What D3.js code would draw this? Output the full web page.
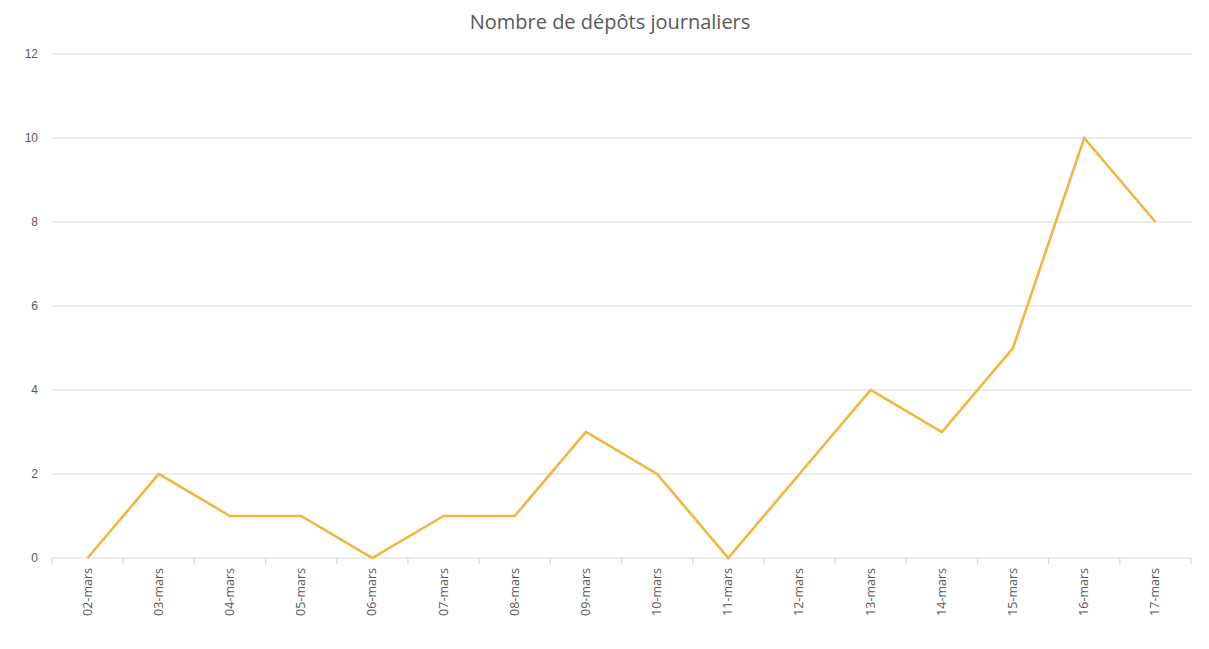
<!DOCTYPE html>
<html>
<head>
<meta charset="utf-8">
<script src="https://cdn.jsdelivr.net/npm/d3@7"></script>
<style>
  body { margin: 0; background: #fff; }
  svg { font-family: "Open Sans", "Noto Sans", sans-serif; }
</style>
</head>
<body>
<svg id="chart" width="1209" height="649"></svg>
<script>
// Données du graphique
const jours = ["02-mars", "03-mars", "04-mars", "05-mars", "06-mars", "07-mars", "08-mars", "09-mars",
  "10-mars", "11-mars", "12-mars", "13-mars", "14-mars", "15-mars", "16-mars", "17-mars"];
const depots = [0, 2, 1, 1, 0, 1, 1, 3, 2, 0, 2, 4, 3, 5, 10, 8];
const yTicks = [0, 2, 4, 6, 8, 10, 12];
const titre = "Nombre de dépôts journaliers";

const svg = d3.select("#chart");
const margin = { top: 54, right: 18, bottom: 91, left: 52 };
const width = 1209 - margin.left - margin.right;
const height = 649 - margin.top - margin.bottom;

const g = svg.append("g").attr("transform", `translate(${margin.left},${margin.top})`);

const x = d3.scaleBand().domain(jours).range([0, width]);
const y = d3.scaleLinear().domain([0, 12]).range([height, 0]);

// Titre
svg.append("text")
  .attr("x", 610)
  .attr("y", 29)
  .attr("text-anchor", "middle")
  .attr("fill", "#595959")
  .attr("font-size", 20)
  .text(titre);

// Grille horizontale
g.selectAll(".grid")
  .data(yTicks.filter(d => d > 0))
  .join("line")
  .attr("x1", 0)
  .attr("x2", width)
  .attr("y1", d => y(d))
  .attr("y2", d => y(d))
  .attr("stroke", "#d9d9d9")
  .attr("stroke-width", 1.2);

// Axe Y (labels seulement)
const yAxis = g.append("g")
  .call(d3.axisLeft(y).tickValues(yTicks).tickSize(0).tickPadding(14));
yAxis.select(".domain").remove();
yAxis.selectAll("text").attr("fill", "#595959").attr("font-size", 12);

// Axe X avec graduations entre les catégories
g.append("line")
  .attr("x1", 0).attr("x2", width)
  .attr("y1", height).attr("y2", height)
  .attr("stroke", "#d9d9d9").attr("stroke-width", 1.2);

const bornes = jours.map(d => x(d)).concat([width]);
g.selectAll(".tick-x")
  .data(bornes)
  .join("line")
  .attr("x1", d => d).attr("x2", d => d)
  .attr("y1", height).attr("y2", height + 6)
  .attr("stroke", "#d9d9d9").attr("stroke-width", 1.2);

g.selectAll(".label-x")
  .data(jours)
  .join("text")
  .attr("transform", d => `translate(${x(d) + x.bandwidth() / 2 + 4},${height + 10}) rotate(-90)`)
  .attr("text-anchor", "end")
  .attr("fill", "#595959")
  .attr("font-size", 12.5)
  .text(d => d);

// Courbe
const line = d3.line()
  .x((d, i) => x(jours[i]) + x.bandwidth() / 2)
  .y(d => y(d));

g.append("path")
  .datum(depots)
  .attr("d", line)
  .attr("fill", "none")
  .attr("stroke", "#f2b63c")
  .attr("stroke-width", 2.6)
  .attr("stroke-linejoin", "miter");
</script>
</body>
</html>
